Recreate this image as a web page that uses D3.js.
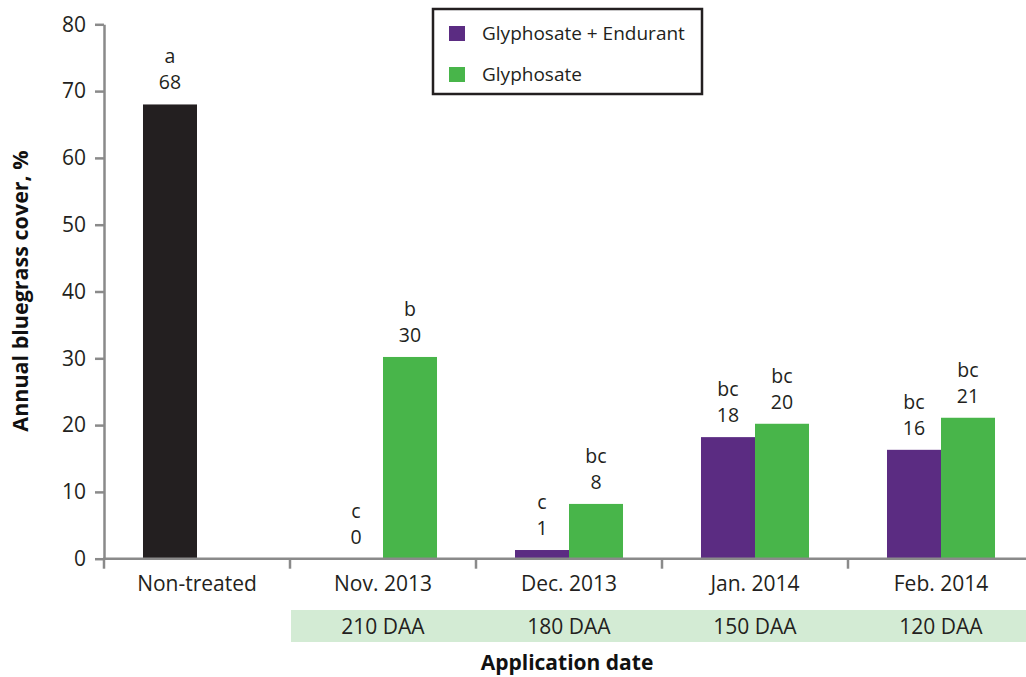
<!DOCTYPE html>
<html>
<head>
<meta charset="utf-8">
<script src="https://cdn.jsdelivr.net/npm/d3@7"></script>
<style>
  body { margin: 0; background: #fff; }
  svg { display: block; font-family: "Open Sans", "Noto Sans", sans-serif; }
</style>
</head>
<body>
<svg id="chart" width="1026" height="677"></svg>
<script>
// data
const categories = ["Non-treated", "Nov. 2013", "Dec. 2013", "Jan. 2014", "Feb. 2014"];
const daaLabels = [null, "210 DAA", "180 DAA", "150 DAA", "120 DAA"];
const seriesNames = ["Glyphosate + Endurant", "Glyphosate"];
const nonTreated = [68.0];
const nonTreatedLetter = ["a"];
const endurantValues = [null, 0, 1.3, 18.2, 16.3];
const glyphosateValues = [null, 30.2, 8.2, 20.2, 21.1];
const endurantLetters = [null, "c", "c", "bc", "bc"];
const glyphosateLetters = [null, "b", "bc", "bc", "bc"];
const yTicks = [0, 10, 20, 30, 40, 50, 60, 70, 80];

const colors = { "Glyphosate + Endurant": "#5b2c82", "Glyphosate": "#48b54a", control: "#231f20" };
const axisColor = "#8a8a8a";

const svg = d3.select("#chart");

const x0 = d3.scaleBand().domain(categories).range([104, 104 + 186 * categories.length]).padding(0);
const x1 = d3.scaleBand().domain(seriesNames).range([0, x0.bandwidth()]).paddingInner(0).paddingOuter(0.722);
const y = d3.scaleLinear().domain([0, 80]).range([558.7, 24.3]);

// DAA band under the axis
svg.append("rect")
  .attr("x", x0(categories[1]) + 1)
  .attr("y", 610)
  .attr("width", 1026 - x0(categories[1]))
  .attr("height", 32)
  .attr("fill", "#d3ebd4");

// rows: one per bar
const bars = [];
nonTreated.forEach((v, i) => bars.push({ cat: categories[i], slot: seriesNames[0], value: v, letter: nonTreatedLetter[i], color: colors.control }));
categories.forEach((c, i) => {
  if (endurantValues[i] != null) bars.push({ cat: c, slot: seriesNames[0], value: endurantValues[i], letter: endurantLetters[i], color: colors[seriesNames[0]] });
  if (glyphosateValues[i] != null) bars.push({ cat: c, slot: seriesNames[1], value: glyphosateValues[i], letter: glyphosateLetters[i], color: colors[seriesNames[1]] });
});

svg.append("g")
  .selectAll("rect")
  .data(bars)
  .enter().append("rect")
  .attr("x", d => x0(d.cat) + x1(d.slot))
  .attr("y", d => y(d.value))
  .attr("width", x1.bandwidth())
  .attr("height", d => y(0) - y(d.value))
  .attr("fill", d => d.color);

// value + letter labels
const lab = svg.append("g")
  .attr("font-size", "19.5px")
  .attr("fill", "#231f20")
  .attr("text-anchor", "middle");
lab.selectAll("text.num")
  .data(bars)
  .enter().append("text")
  .attr("class", "num")
  .attr("x", d => x0(d.cat) + x1(d.slot) + x1.bandwidth() / 2)
  .attr("y", d => y(d.value) - 15)
  .text(d => Math.round(d.value));
lab.selectAll("text.let")
  .data(bars)
  .enter().append("text")
  .attr("class", "let")
  .attr("x", d => x0(d.cat) + x1(d.slot) + x1.bandwidth() / 2)
  .attr("y", d => y(d.value) - 41)
  .text(d => d.letter);

// y axis
const yAxis = svg.append("g")
  .attr("transform", "translate(104,0)")
  .call(d3.axisLeft(y).tickValues(yTicks).tickSize(9).tickPadding(9).tickSizeOuter(0));
yAxis.select(".domain").attr("stroke", axisColor).attr("stroke-width", 2.5);
yAxis.selectAll(".tick line").attr("stroke", axisColor).attr("stroke-width", 2.5);
yAxis.selectAll(".tick text").attr("font-size", "21px").attr("fill", "#231f20").attr("font-family", "Open Sans");

// x axis line and ticks at group boundaries
svg.append("line")
  .attr("x1", 103).attr("x2", 1026)
  .attr("y1", y(0)).attr("y2", y(0))
  .attr("stroke", axisColor).attr("stroke-width", 2.5);
svg.append("g")
  .selectAll("line")
  .data(categories)
  .enter().append("line")
  .attr("x1", d => x0(d)).attr("x2", d => x0(d))
  .attr("y1", y(0)).attr("y2", y(0) + 10)
  .attr("stroke", axisColor).attr("stroke-width", 2.5);

const xAxis = svg.append("g")
  .attr("transform", `translate(0,${y(0)})`)
  .call(d3.axisBottom(x0).tickSize(0).tickPadding(17));
xAxis.select(".domain").remove();
xAxis.selectAll(".tick text").attr("font-size", "21px").attr("fill", "#231f20").attr("font-family", "Open Sans");

// DAA labels
svg.append("g")
  .selectAll("text")
  .data(categories.filter((c, i) => daaLabels[i]))
  .enter().append("text")
  .attr("x", d => x0(d) + x0.bandwidth() / 2)
  .attr("y", 634)
  .attr("text-anchor", "middle")
  .attr("font-size", "21px")
  .attr("fill", "#231f20")
  .text(d => daaLabels[categories.indexOf(d)]);

// axis titles
svg.append("text")
  .attr("x", 567).attr("y", 670)
  .attr("text-anchor", "middle")
  .attr("font-size", "21px")
  .attr("font-weight", "bold")
  .attr("fill", "#111")
  .text("Application date");
svg.append("text")
  .attr("transform", "translate(28,291) rotate(-90)")
  .attr("text-anchor", "middle")
  .attr("font-size", "21.5px")
  .attr("font-weight", "bold")
  .attr("fill", "#111")
  .text("Annual bluegrass cover, %");

// legend
const legend = svg.append("g").attr("transform", "translate(433,9)");
legend.append("rect")
  .attr("width", 269).attr("height", 85)
  .attr("fill", "#fff")
  .attr("stroke", "#231f20").attr("stroke-width", 2.5);
const item = legend.selectAll("g.item")
  .data(seriesNames)
  .enter().append("g")
  .attr("class", "item")
  .attr("transform", (d, i) => `translate(16,${17 + i * 41})`);
item.append("rect")
  .attr("width", 16).attr("height", 15)
  .attr("fill", d => colors[d]);
item.append("text")
  .attr("x", 33).attr("y", 14)
  .attr("font-size", "19px")
  .attr("fill", "#231f20")
  .text(d => d);
</script>
</body>
</html>
